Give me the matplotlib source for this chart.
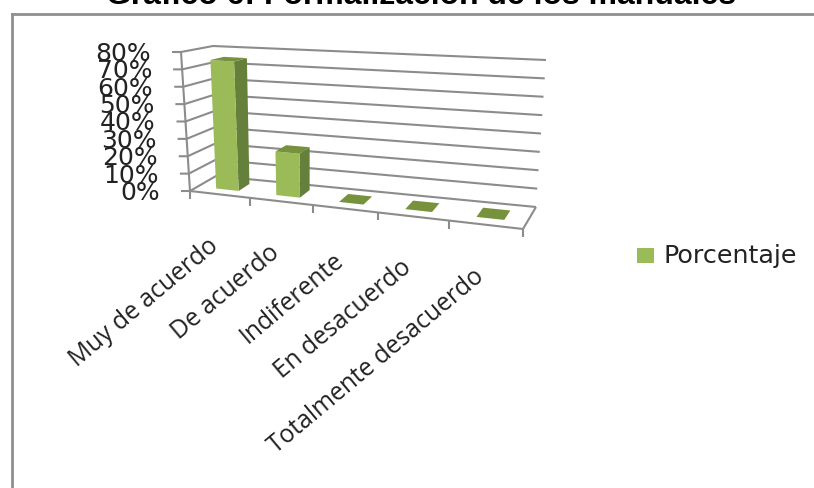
import matplotlib
matplotlib.use("Agg")
import matplotlib.pyplot as plt
import numpy as np
from matplotlib.patches import Polygon

categories = ["Muy de acuerdo", "De acuerdo", "Indiferente", "En desacuerdo", "Totalmente desacuerdo"]
values = [75, 25, 0, 0, 0]
y_ticks = [0, 10, 20, 30, 40, 50, 60, 70, 80]
series_name = "Porcentaje"
title = "Gráfico 6: Formalización de los manuales"

GREEN = "#9BBB59"
SIDE = "#65803A"
TOP = "#76923C"
GRID = "#8C8C8C"

# corners of the 3D box in pixels: front/back, left/right, bottom/top
FLB, FLT = np.array([190, 192.0]), np.array([181, 53.0])
FRB, FRT = np.array([523, 230.0]), np.array([535, 79.0])
BLB, BLT = np.array([216, 177.0]), np.array([213, 47.0])
BRB, BRT = np.array([536, 208.0]), np.array([546, 61.0])
# category boundaries along the floor, foreshortened by the perspective
U_STOPS = [0, 0.18, 0.369, 0.564, 0.778, 1.0]
BAR_HALF = 0.19
BAR_D0, BAR_D1 = 0.3, 0.74


def proj(cat, val, depth):
    u = np.interp(cat, range(6), U_STOPS)
    v = val / 80
    front = (FLB * (1 - u) + FRB * u) * (1 - v) + (FLT * (1 - u) + FRT * u) * v
    back = (BLB * (1 - u) + BRB * u) * (1 - v) + (BLT * (1 - u) + BRT * u) * v
    return front * (1 - depth) + back * depth


def line(ax, pts, lw=1.5):
    xs, ys = zip(*pts)
    ax.plot(xs, ys, color=GRID, lw=lw, solid_capstyle="butt", zorder=1)


fig = plt.figure(figsize=(8.14, 4.89), dpi=100)
ax = fig.add_axes([0, 0, 1, 1])
ax.set_xlim(0, 814)
ax.set_ylim(489, 0)
ax.axis("off")

# chart frame runs off the right and bottom edges
ax.plot([12, 12], [489, 15], color="#8F8F8F", lw=2, zorder=1)
ax.plot([12, 814], [15, 15], color="#8F8F8F", lw=2, zorder=1)

ax.text(421, 4, title, ha="center", va="baseline", fontsize=23, fontweight="bold",
        family="Liberation Sans", color="black", clip_on=False)

# walls, gridlines and value ticks
for t in y_ticks:
    line(ax, [proj(0, t, 0) + np.array([-9, 0]), proj(0, t, 0), proj(0, t, 1), proj(5, t, 1)])
    p = proj(0, t, 0)
    ax.text(p[0] - 30, p[1] + 1, f"{t}%", ha="right", va="center", fontsize=18,
            family="DejaVu Sans", color="#222222", zorder=3)
line(ax, [proj(0, 0, 0), proj(0, 80, 0)])
line(ax, [proj(0, 0, 0), proj(5, 0, 0), proj(5, 0, 1)])

# category ticks and labels
for i in range(6):
    p = proj(i, 0, 0)
    line(ax, [p, p + np.array([0, 8])])
for i, name in enumerate(categories):
    p = proj(i + 0.5, 0, 0)
    ax.text(p[0] - 13, p[1] + 38, name, rotation=40, rotation_mode="anchor", ha="right", va="top",
            fontsize=17.7, family="Open Sans", color="#222222", zorder=3)

# bars: front, side and top faces
for i, val in enumerate(values):
    c0, c1 = i + 0.5 - BAR_HALF, i + 0.5 + BAR_HALF
    if val > 0:
        ax.add_patch(Polygon([proj(c1, 0, BAR_D0), proj(c1, 0, BAR_D1), proj(c1, val, BAR_D1), proj(c1, val, BAR_D0)],
                             fc=SIDE, ec="none", zorder=2))
        ax.add_patch(Polygon([proj(c0, 0, BAR_D0), proj(c1, 0, BAR_D0), proj(c1, val, BAR_D0), proj(c0, val, BAR_D0)],
                             fc=GREEN, ec="none", zorder=2))
    ax.add_patch(Polygon([proj(c0, val, BAR_D0), proj(c1, val, BAR_D0), proj(c1, val, BAR_D1), proj(c0, val, BAR_D1)],
                         fc=TOP, ec="none", zorder=2))

# legend
ax.add_patch(Polygon([(637, 249), (654, 249), (654, 264), (637, 264)], fc=GREEN, ec="none"))
ax.text(663, 256, series_name, ha="left", va="center", fontsize=18.3, family="DejaVu Sans", color="#222222")

fig.savefig("out.png", dpi=100)
plt.close(fig)
